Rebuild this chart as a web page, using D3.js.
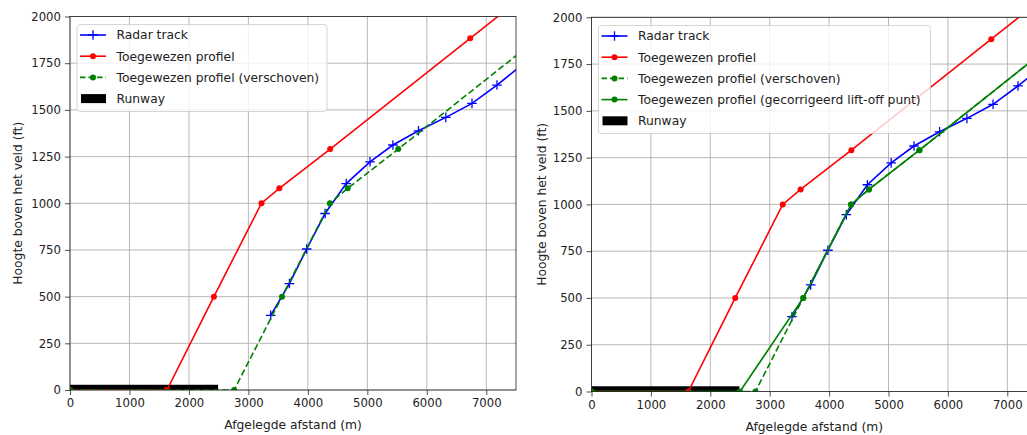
<!DOCTYPE html>
<html>
<head>
<meta charset="utf-8">
<script src="https://cdn.jsdelivr.net/npm/d3@7"></script>
<style>
    body { margin: 0; background: #fff; }
    svg { display: block; font-family: "DejaVu Sans", sans-serif; }
</style>
</head>
<body>
<div id="chart"></div>
<script>
// data (distance in m, height in ft)
const xTicks = [0, 1000, 2000, 3000, 4000, 5000, 6000, 7000];
const yTicks = [0, 250, 500, 750, 1000, 1250, 1500, 1750, 2000];

const radarX = [3375, 3690, 3980, 4290, 4645, 5045, 5430, 5860, 6320, 6760, 7180, 7600];
const radarY = [400, 570, 755, 945, 1105, 1222, 1312, 1388, 1460, 1535, 1633, 1740];

const profielX = [0, 1630, 2420, 3220, 3520, 4375, 6730, 8000];
const profielY = [0, 0, 500, 1000, 1080, 1290, 1883, 2203];

const verschovenX = [0, 2760, 3565, 4370, 4670, 5520, 7870, 9140];
const verschovenY = [0, 0, 500, 1000, 1080, 1290, 1883, 2203];

const gecorrigeerdX = [0, 2500, 3565, 4370, 4670, 5520, 7870, 9140];
const gecorrigeerdY = [0, 0, 500, 1000, 1080, 1290, 1883, 2203];

const runwayX = [0, 2490];
const runwayH = 28;

const svg = d3.select("#chart").append("svg")
    .attr("width", 1027)
    .attr("height", 435);

// series definitions (style only)
const radarSeries = { name: "Radar track", xs: radarX, ys: radarY, color: "#0000ff", marker: "plus", dash: null };
const profielSeries = { name: "Toegewezen profiel", xs: profielX, ys: profielY, color: "#ff0000", marker: "dot", dash: null };
const verschovenSeries = { name: "Toegewezen profiel (verschoven)", xs: verschovenX, ys: verschovenY, color: "#008000", marker: "dot", dash: "6.5,3" };
const gecorrigeerdSeries = { name: "Toegewezen profiel (gecorrigeerd lift-off punt)", xs: gecorrigeerdX, ys: gecorrigeerdY, color: "#008000", marker: "dot", dash: null };

drawPanel({
    id: "left", x0: 70, x1: 516, y0: 16.5, y1: 390, yLabelX: 18,
    legend: { x: 77, y: 24.5, w: 250, h: 87 },
    series: [radarSeries, profielSeries, verschovenSeries]
});

drawPanel({
    id: "right", x0: 591.5, x1: 1037, y0: 17.3, y1: 391.5, yLabelX: 541.5,
    legend: { x: 598.5, y: 25.5, w: 332, h: 108 },
    series: [radarSeries, profielSeries, verschovenSeries, gecorrigeerdSeries]
});

function drawMarker(g, type, cx, cy, color) {
    if (type === "plus") {
        g.append("path")
            .attr("d", `M${cx - 4.8},${cy}H${cx + 4.8}M${cx},${cy - 4.8}V${cy + 4.8}`)
            .attr("stroke", color)
            .attr("stroke-width", 1.3)
            .attr("fill", "none");
    } else {
        g.append("circle")
            .attr("cx", cx).attr("cy", cy).attr("r", 3)
            .attr("fill", color);
    }
}

function drawPanel(p) {
    const x = d3.scaleLinear().domain([0, 7500]).range([p.x0, p.x1]);
    const y = d3.scaleLinear().domain([0, 2000]).range([p.y1, p.y0]);

    const clipId = `clip-${p.id}`;
    svg.append("clipPath").attr("id", clipId)
        .append("rect")
        .attr("x", p.x0).attr("y", p.y0)
        .attr("width", p.x1 - p.x0).attr("height", p.y1 - p.y0);

    // grid
    const grid = svg.append("g");
    grid.selectAll("line.vx").data(xTicks).enter().append("line")
        .attr("x1", d => x(d)).attr("x2", d => x(d))
        .attr("y1", p.y0).attr("y2", p.y1)
        .attr("stroke", "#b0b0b0").attr("stroke-width", 0.9);
    grid.selectAll("line.hy").data(yTicks).enter().append("line")
        .attr("x1", p.x0).attr("x2", p.x1)
        .attr("y1", d => y(d)).attr("y2", d => y(d))
        .attr("stroke", "#b0b0b0").attr("stroke-width", 0.9);

    const plot = svg.append("g").attr("clip-path", `url(#${clipId})`);

    // runway bar (below the lines)
    plot.append("rect")
        .attr("x", x(runwayX[0]))
        .attr("y", y(runwayH))
        .attr("width", x(runwayX[1]) - x(runwayX[0]))
        .attr("height", y(0) - y(runwayH))
        .attr("fill", "#000");

    const line = d3.line().x(d => x(d[0])).y(d => y(d[1]));

    p.series.forEach(s => {
        const pts = s.xs.map((v, i) => [v, s.ys[i]]);
        plot.append("path")
            .datum(pts)
            .attr("d", line)
            .attr("fill", "none")
            .attr("stroke", s.color)
            .attr("stroke-width", 1.6)
            .attr("stroke-dasharray", s.dash);
        pts.forEach(d => drawMarker(plot, s.marker, x(d[0]), y(d[1]), s.color));
    });

    // axes
    const xAxis = svg.append("g")
        .attr("transform", `translate(0,${p.y1})`)
        .call(d3.axisBottom(x).tickValues(xTicks).tickSize(5).tickPadding(4).tickFormat(d3.format("d")));
    const yAxis = svg.append("g")
        .attr("transform", `translate(${p.x0},0)`)
        .call(d3.axisLeft(y).tickValues(yTicks).tickSize(5).tickPadding(4).tickFormat(d3.format("d")));
    [xAxis, yAxis].forEach(a => {
        a.select(".domain").remove();
        a.selectAll("text").attr("font-size", 11.7).attr("font-family", "DejaVu Sans").attr("fill", "#222");
        a.selectAll("line").attr("stroke", "#222").attr("stroke-width", 0.8);
    });

    // spines
    svg.append("rect")
        .attr("x", p.x0).attr("y", p.y0)
        .attr("width", p.x1 - p.x0).attr("height", p.y1 - p.y0)
        .attr("fill", "none").attr("stroke", "#222").attr("stroke-width", 0.8);

    // axis labels
    svg.append("text")
        .attr("x", (p.x0 + p.x1) / 2).attr("y", p.y1 + 39)
        .attr("text-anchor", "middle")
        .attr("font-size", 12.3).attr("fill", "#222")
        .text("Afgelegde afstand (m)");
    svg.append("text")
        .attr("transform", `translate(${p.yLabelX},${(p.y0 + p.y1) / 2}) rotate(-90)`)
        .attr("text-anchor", "middle")
        .attr("dy", "0.35em")
        .attr("font-size", 12.3).attr("fill", "#222")
        .text("Hoogte boven het veld (ft)");

    // legend
    const lg = svg.append("g");
    const L = p.legend;
    lg.append("rect")
        .attr("x", L.x).attr("y", L.y).attr("width", L.w).attr("height", L.h)
        .attr("rx", 3)
        .attr("fill", "rgba(255,255,255,0.8)")
        .attr("stroke", "rgba(204,204,204,0.8)").attr("stroke-width", 1);

    const entries = p.series.concat([{ name: "Runway", patch: true }]);
    entries.forEach((s, i) => {
        const cy = L.y + 10.5 + i * 21.2;
        const hx0 = L.x + 3, hx1 = L.x + 29;
        if (s.patch) {
            lg.append("rect")
                .attr("x", hx0 + 1).attr("y", cy - 4.5)
                .attr("width", hx1 - hx0 - 1).attr("height", 9)
                .attr("fill", "#000");
        } else {
            lg.append("line")
                .attr("x1", hx0).attr("x2", hx1).attr("y1", cy).attr("y2", cy)
                .attr("stroke", s.color).attr("stroke-width", 1.6)
                .attr("stroke-dasharray", s.dash ? "5.5,3" : null);
            drawMarker(lg, s.marker, (hx0 + hx1) / 2, cy, s.color);
        }
        lg.append("text")
            .attr("x", L.x + 39.5).attr("y", cy)
            .attr("dy", "0.35em")
            .attr("font-size", 12.3).attr("fill", "#222")
            .text(s.name);
    });
}
</script>
</body>
</html>
